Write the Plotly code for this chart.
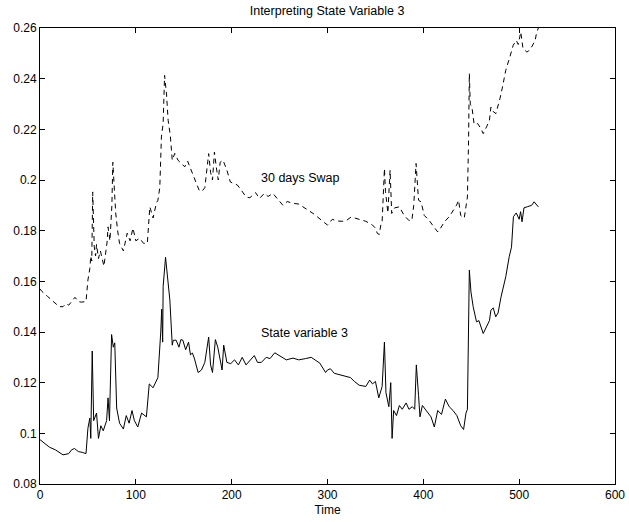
import plotly.graph_objects as go

# State variable 3 (solid)
state_t = [0, 5, 10, 16, 24, 30, 33, 36, 40, 44, 48, 50, 52, 53, 54.5, 56, 59, 61, 63.5, 66,
           69.5, 71, 72.5, 74.7, 76.5, 78, 80, 83, 87, 90, 93, 96, 98.5, 102, 106, 111, 114, 118,
           123, 126, 127, 128, 128.5, 131, 133, 135.5, 138, 139, 142, 145, 147, 149, 152, 155, 157,
           159, 161, 165, 168.5, 172, 176, 178, 180, 183, 185.5, 188, 190, 191.7, 195, 199, 203,
           207, 211, 215, 220, 223.6, 227, 231, 236, 240, 245, 250, 257, 264, 270, 277, 283, 292,
           298, 300, 303, 307, 313, 319.5, 324, 328, 333, 340, 344, 347, 350, 353.5, 357, 359.4,
           361, 364, 366, 367.4, 369, 372, 375, 378, 382, 385, 388.5, 391, 392.7, 395, 396.5, 399,
           402, 405, 408, 411.5, 415, 419, 423, 427, 431, 435, 439, 442, 444.5, 446, 448, 449.7,
           452, 455.5, 458, 462.5, 466, 469, 470.5, 473, 475.5, 478, 481, 484, 486, 489.6, 492,
           494, 497, 500, 501.5, 503, 505, 509, 513, 515.6, 520]
state_v = [0.0975, 0.096, 0.0945, 0.0935, 0.0915, 0.092, 0.0935, 0.094, 0.0928, 0.0925, 0.092,
           0.102, 0.106, 0.098, 0.1325, 0.105, 0.108, 0.098, 0.103, 0.101, 0.105, 0.114, 0.105,
           0.139, 0.134, 0.1357, 0.110, 0.104, 0.1017, 0.107, 0.104, 0.109, 0.105, 0.1025, 0.108,
           0.1065, 0.1195, 0.118, 0.122, 0.140, 0.149, 0.136, 0.158, 0.1695, 0.162, 0.1526, 0.1348,
           0.1367, 0.1368, 0.134, 0.137, 0.1368, 0.133, 0.136, 0.131, 0.1317, 0.1297, 0.124, 0.125,
           0.128, 0.138, 0.127, 0.124, 0.137, 0.134, 0.129, 0.125, 0.1348, 0.128, 0.1275, 0.129,
           0.127, 0.130, 0.127, 0.129, 0.1307, 0.128, 0.128, 0.130, 0.1295, 0.1318, 0.1305, 0.129,
           0.1297, 0.129, 0.1295, 0.130, 0.1277, 0.124, 0.125, 0.1255, 0.1237, 0.123, 0.1223,
           0.122, 0.1205, 0.119, 0.1185, 0.121, 0.1195, 0.1205, 0.114, 0.1185, 0.136, 0.116,
           0.1105, 0.120, 0.098, 0.109, 0.107, 0.111, 0.1095, 0.112, 0.1095, 0.1105, 0.1095, 0.127,
           0.115, 0.1065, 0.111, 0.1095, 0.108, 0.1065, 0.1025, 0.109, 0.1075, 0.1135, 0.1105,
           0.109, 0.107, 0.103, 0.1015, 0.108, 0.1095, 0.1644, 0.1558, 0.150, 0.144, 0.1445,
           0.1394, 0.142, 0.1445, 0.1486, 0.1495, 0.146, 0.1475, 0.1537, 0.158, 0.1618, 0.1697,
           0.1735, 0.1855, 0.187, 0.1845, 0.1875, 0.1835, 0.189, 0.1895, 0.190, 0.1914, 0.1894]

# 30 days Swap (dashed)
swap_t = [0, 2, 8, 15.6, 20, 24, 27, 30, 33, 36.5, 40, 43, 48, 50, 52, 53, 54, 55, 56.6, 58, 59,
          61, 63, 66.7, 70, 71, 73, 75, 76, 77, 79, 81, 83, 87, 91, 94, 97, 100, 104, 108, 112,
          114.6, 118, 121.5, 123, 125, 126.7, 128.5, 130, 132, 133.7, 136, 138, 140.6, 144, 147.6,
          151, 154, 158, 161.5, 166, 169, 172, 176, 178, 180, 182, 184, 186, 188, 191, 195, 198.6,
          203, 206, 210, 215, 219, 225, 229, 234, 238, 243, 248, 253.5, 258, 264, 270, 274.6, 280,
          285, 289, 293, 297, 300, 305, 310, 317, 320, 324.7, 330, 335, 340, 347, 350, 352, 354,
          356, 357, 359.4, 360.5, 363, 365.3, 367, 370, 375, 380, 384.7, 388, 390, 392.4, 395,
          397.6, 401, 406, 410, 415, 418, 422, 427, 431, 434.6, 436.8, 439, 442.7, 444, 446, 447.2,
          448, 449, 450.7, 453, 456.6, 460, 462.5, 466, 469, 470.5, 473, 475.7, 478, 480, 482.6,
          486, 490.3, 493.8, 497, 499, 501.7, 504, 508, 510, 513, 516.7, 518, 520]
swap_v = [0.157, 0.156, 0.154, 0.1514, 0.150, 0.150, 0.1512, 0.1506, 0.152, 0.1537, 0.152, 0.1518,
          0.152, 0.1605, 0.165, 0.170, 0.168, 0.1953, 0.1736, 0.170, 0.1746, 0.169, 0.172, 0.166,
          0.1755, 0.1815, 0.176, 0.190, 0.207, 0.200, 0.187, 0.180, 0.175, 0.172, 0.179, 0.176,
          0.181, 0.176, 0.177, 0.175, 0.175, 0.1894, 0.185, 0.191, 0.192, 0.197, 0.217, 0.2224,
          0.2413, 0.234, 0.2236, 0.2175, 0.2078, 0.2105, 0.2078, 0.2065, 0.2052, 0.2075, 0.2039,
          0.200, 0.196, 0.1955, 0.197, 0.2104, 0.203, 0.200, 0.211, 0.205, 0.200, 0.207, 0.2078,
          0.2039, 0.1992, 0.1985, 0.198, 0.196, 0.1933, 0.193, 0.195, 0.1927, 0.1947, 0.1935,
          0.1947, 0.1925, 0.190, 0.1915, 0.1908, 0.1905, 0.1895, 0.188, 0.1868, 0.1855, 0.1841,
          0.183, 0.1822, 0.1845, 0.1838, 0.1837, 0.1841, 0.1854, 0.1848, 0.184, 0.1837, 0.1822,
          0.181, 0.1789, 0.1785, 0.183, 0.1835, 0.2045, 0.1955, 0.187, 0.2039, 0.1868, 0.189,
          0.1894, 0.186, 0.1841, 0.184, 0.190, 0.2065, 0.192, 0.1914, 0.186, 0.1841, 0.182,
          0.1795, 0.181, 0.1835, 0.1855, 0.188, 0.190, 0.192, 0.186, 0.185, 0.188, 0.1933, 0.2157,
          0.242, 0.2299, 0.2288, 0.222, 0.2223, 0.2204, 0.2183, 0.221, 0.2236, 0.2288, 0.227,
          0.2262, 0.229, 0.2322, 0.2367, 0.2433, 0.2486, 0.2532, 0.2551, 0.2535, 0.2584, 0.2519,
          0.2505, 0.251, 0.2525, 0.2551, 0.2578, 0.260]

x_ticks = [0, 100, 200, 300, 400, 500, 600]
y_ticks = [0.08, 0.10, 0.12, 0.14, 0.16, 0.18, 0.20, 0.22, 0.24, 0.26]
y_tick_labels = ["0.08", "0.1", "0.12", "0.14", "0.16", "0.18", "0.2", "0.22", "0.24", "0.26"]

title_text = "Interpreting State Variable 3"
x_title = "Time"
label_swap = "30 days Swap"
label_state = "State variable 3"

FONT = "Liberation Sans, Arial, sans-serif"

fig = go.Figure()
fig.add_trace(go.Scatter(x=swap_t, y=swap_v, mode="lines",
                         line=dict(color="black", width=1, dash="5px,4px"),
                         showlegend=False, hoverinfo="skip"))
fig.add_trace(go.Scatter(x=state_t, y=state_v, mode="lines",
                         line=dict(color="black", width=1),
                         showlegend=False, hoverinfo="skip"))

fig.add_annotation(x=228, y=0.2007, text=label_swap, showarrow=False, xanchor="left",
                   yanchor="middle", font=dict(family=FONT, size=12.5, color="black"))
fig.add_annotation(x=229, y=0.1398, text=label_state, showarrow=False, xanchor="left",
                   yanchor="middle", font=dict(family=FONT, size=12.5, color="black"))

axis_common = dict(showline=True, linecolor="black", linewidth=1, mirror="ticks",
                   ticks="inside", ticklen=5, tickcolor="black", showgrid=False,
                   zeroline=False, automargin=False,
                   tickfont=dict(family=FONT, size=12, color="black"))

fig.update_layout(
    width=629, height=522,
    margin=dict(l=40, r=14, t=28, b=38),
    paper_bgcolor="white", plot_bgcolor="white",
    title=dict(text=title_text, x=0.52, xanchor="center", xref="container",
               y=0.979, yref="container", yanchor="middle",
               font=dict(family=FONT, size=12.5, color="black")),
    xaxis=dict(range=[0, 600], tickvals=x_ticks,
               title=dict(text=x_title, standoff=4, font=dict(family=FONT, size=12, color="black")),
               **axis_common),
    yaxis=dict(range=[0.08, 0.26], tickvals=y_ticks, ticktext=y_tick_labels, **axis_common),
)

fig.write_html("out.html", config={"displayModeBar": False},
               post_script="document.body.style.margin='0';document.body.style.padding='0';")
